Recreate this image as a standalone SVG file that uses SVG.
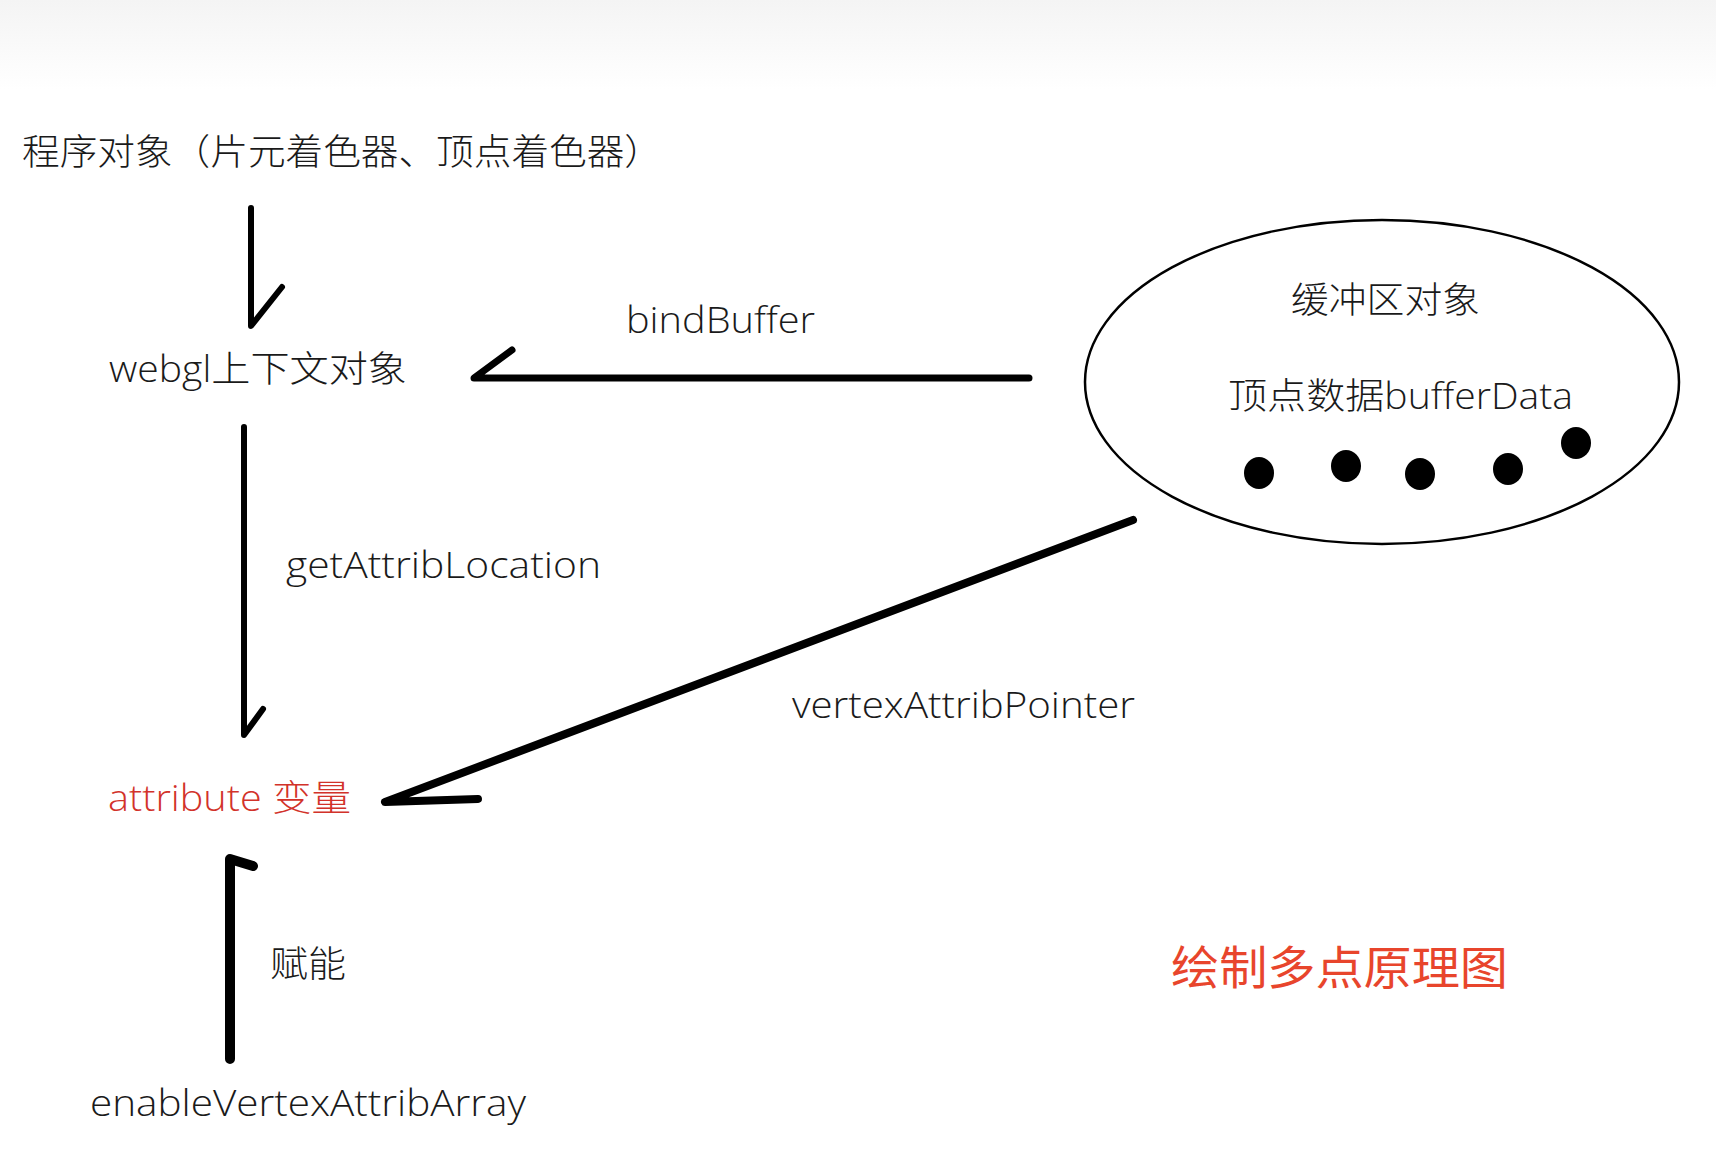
<svg xmlns="http://www.w3.org/2000/svg" width="1716" height="1174" viewBox="0 0 1716 1174">
<defs>
<linearGradient id="topfade" x1="0" y1="0" x2="0" y2="1">
<stop offset="0" stop-color="#f4f4f4"/>
<stop offset="1" stop-color="#ffffff"/>
</linearGradient>
<style>
.t{font-family:"Open Sans","Noto Sans CJK SC",sans-serif;font-size:36px;font-weight:300;fill:#1a1a1a}
.red{fill:#d2322a}
.title{font-family:"Noto Sans CJK SC",sans-serif;font-size:46px;fill:#e8452c}
.ln{fill:none;stroke:#000;stroke-linecap:round;stroke-linejoin:round}
</style>
</defs>
<rect width="1716" height="1174" fill="#ffffff"/>
<rect width="1716" height="90" fill="url(#topfade)"/>

<g id="node-program">
<text class="t" x="22" y="165" textLength="640" lengthAdjust="spacingAndGlyphs">程序对象（片元着色器、顶点着色器）</text>
</g>
<g id="node-webgl">
<text class="t" x="109" y="382" textLength="298" lengthAdjust="spacingAndGlyphs">webgl上下文对象</text>
</g>
<g id="node-buffer">
<ellipse cx="1382" cy="382" rx="297" ry="162" fill="none" stroke="#000" stroke-width="2.5"/>
<text class="t" x="1291" y="313" textLength="189" lengthAdjust="spacingAndGlyphs">缓冲区对象</text>
<text class="t" x="1228" y="409" textLength="345" lengthAdjust="spacingAndGlyphs">顶点数据bufferData</text>
<ellipse cx="1259" cy="473" rx="15" ry="16" fill="#000"/>
<ellipse cx="1346" cy="466" rx="15" ry="16" fill="#000"/>
<ellipse cx="1420" cy="474" rx="15" ry="16" fill="#000"/>
<ellipse cx="1508" cy="469" rx="15" ry="16" fill="#000"/>
<ellipse cx="1576" cy="443" rx="15" ry="16" fill="#000"/>
</g>
<g id="node-attribute">
<text class="t red" x="108" y="811" textLength="243" lengthAdjust="spacingAndGlyphs">attribute 变量</text>
</g>
<g id="node-enable">
<text class="t" x="90" y="1116" textLength="436" lengthAdjust="spacingAndGlyphs">enableVertexAttribArray</text>
</g>
<g id="note">
<text class="title" x="1171" y="984" textLength="337" lengthAdjust="spacingAndGlyphs">绘制多点原理图</text>
</g>

<g id="connectors">
<path class="ln" stroke-width="6" d="M251 208 L251 326 L282 287"/>
<path class="ln" stroke-width="7" d="M1029 378 L474 378 L512 350"/>
<path class="ln" stroke-width="6" d="M244 427 L244 735 L263 709"/>
<path class="ln" stroke-width="8" d="M1133 520 L385 802 L478 799"/>
<path class="ln" stroke-width="10" d="M230 1059 L230 859 L253 866"/>
<text class="t" x="626" y="333" textLength="189" lengthAdjust="spacingAndGlyphs">bindBuffer</text>
<text class="t" x="286" y="578" textLength="315" lengthAdjust="spacingAndGlyphs">getAttribLocation</text>
<text class="t" x="792" y="718" textLength="343" lengthAdjust="spacingAndGlyphs">vertexAttribPointer</text>
<text class="t" x="270" y="977" textLength="76" lengthAdjust="spacingAndGlyphs">赋能</text>
</g>
</svg>
